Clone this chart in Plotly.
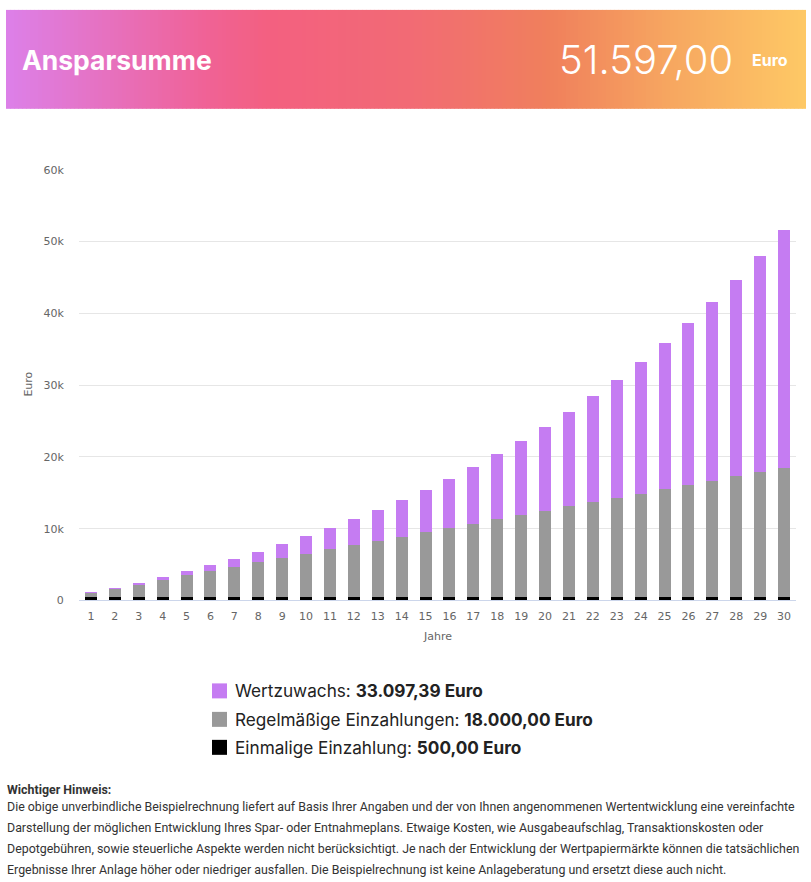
import plotly.graph_objects as go

W, H = 811, 882

# ---------------- data ----------------
jahre = list(range(1, 31))
einmalige_einzahlung = [500] * 30
regelmaessige_einzahlungen = [600, 1200, 1800, 2400, 3000, 3600, 4200, 4800, 5400, 6000,
                              6600, 7200, 7800, 8400, 9000, 9600, 10200, 10800, 11400, 12000,
                              12600, 13200, 13800, 14400, 15000, 15600, 16200, 16800, 17400, 18000]
wertzuwachs = [15, 50, 120, 330, 560, 810, 1060, 1420, 1920, 2440,
               2960, 3610, 4270, 5060, 5850, 6780, 7850, 9060, 10270, 11620,
               13110, 14740, 16370, 18270, 20320, 22500, 24820, 27290, 30030, 33097.39]
y_tickvals = [0, 10000, 20000, 30000, 40000, 50000, 60000]
y_ticktext = ["0", "10k", "20k", "30k", "40k", "50k", "60k"]

legend_items = [
    ("Wertzuwachs:", "33.097,39 Euro", "#c57cf2"),
    ("Regelmäßige Einzahlungen:", "18.000,00 Euro", "#999999"),
    ("Einmalige Einzahlung:", "500,00 Euro", "#000000"),
]
total_text = "51.597,00"

hinweis_title = "Wichtiger Hinweis:"
hinweis_lines = [
    "Die obige unverbindliche Beispielrechnung liefert auf Basis Ihrer Angaben und der von Ihnen angenommenen Wertentwicklung eine vereinfachte",
    "Darstellung der möglichen Entwicklung Ihres Spar- oder Entnahmeplans. Etwaige Kosten, wie Ausgabeaufschlag, Transaktionskosten oder",
    "Depotgebühren, sowie steuerliche Aspekte werden nicht berücksichtigt. Je nach der Entwicklung der Wertpapiermärkte können die tatsächlichen",
    "Ergebnisse Ihrer Anlage höher oder niedriger ausfallen. Die Beispielrechnung ist keine Anlageberatung und ersetzt diese auch nicht.",
]

# ---------------- helpers ----------------
def px(x):
    return x / W

def py(y):
    # target pixel row -> paper coordinate (compensates the observed vertical fit of the page)
    return 1 - ((y - 6.1) / 0.986) / H

AX_FONT = "DejaVu Sans"

fig = go.Figure()
fig.add_trace(go.Bar(x=jahre, y=einmalige_einzahlung, name="Einmalige Einzahlung",
                     marker=dict(color="#000000", line=dict(width=0))))
fig.add_trace(go.Bar(x=jahre, y=regelmaessige_einzahlungen, name="Regelmäßige Einzahlungen",
                     marker=dict(color="#999999", line=dict(width=0))))
fig.add_trace(go.Bar(x=jahre, y=wertzuwachs, name="Wertzuwachs",
                     marker=dict(color="#c57cf2", line=dict(width=0))))

shapes = []
# gradient banner
stops = [(0.0, (220, 128, 233)), (0.25, (240, 98, 150)), (0.33, (243, 96, 128)),
         (0.5, (242, 106, 117)), (0.68, (240, 128, 92)), (0.82, (246, 164, 96)),
         (1.0, (254, 201, 101))]

def interp(t):
    for i in range(len(stops) - 1):
        t0, c0 = stops[i]
        t1, c1 = stops[i + 1]
        if t0 <= t <= t1:
            f = (t - t0) / (t1 - t0)
            return "rgb(%d,%d,%d)" % tuple(round(c0[k] + (c1[k] - c0[k]) * f) for k in range(3))
    return "rgb(%d,%d,%d)" % stops[-1][1]

x0b, x1b, y0b, y1b = 6, 806, 10, 109
N = 200
for i in range(N):
    xa = x0b + (x1b - x0b) * i / N
    xb = x0b + (x1b - x0b) * (i + 1) / N + 0.6
    shapes.append(dict(type="rect", xref="paper", yref="paper",
                       x0=px(xa), x1=px(min(xb, x1b)), y0=py(y1b), y1=py(y0b),
                       fillcolor=interp((i + 0.5) / N), line=dict(width=0), layer="below"))

annotations = [
    dict(text="<b>Ansparsumme</b>", x=px(20), y=py(60), xref="paper", yref="paper",
         xanchor="left", yanchor="middle", showarrow=False,
         font=dict(family="Inter", size=26.5, color="white")),
    dict(text=total_text, x=px(735), y=py(60), xref="paper", yref="paper",
         xanchor="right", yanchor="middle", showarrow=False,
         font=dict(family="Inter", size=40, color="white", weight=300)),
    dict(text="<b>Euro</b>", x=px(750), y=py(60), xref="paper", yref="paper",
         xanchor="left", yanchor="middle", showarrow=False,
         font=dict(family="Inter", size=16, color="white")),
    dict(text="Euro", x=px(29), y=py(385), xref="paper", yref="paper", textangle=-90,
         xanchor="center", yanchor="middle", showarrow=False,
         font=dict(family=AX_FONT, size=11, color="#666666")),
    dict(text="Jahre", x=px(437.5), y=py(637), xref="paper", yref="paper",
         xanchor="center", yanchor="middle", showarrow=False,
         font=dict(family=AX_FONT, size=11, color="#666666")),
]

# custom legend
leg_y = [691.5, 720, 748]
for (lab, val, col), yy in zip(legend_items, leg_y):
    shapes.append(dict(type="rect", xref="paper", yref="paper",
                       x0=px(212), x1=px(227), y0=py(yy + 7.5), y1=py(yy - 7.5),
                       fillcolor=col, line=dict(width=0)))
    annotations.append(dict(text=lab + " <b>" + val + "</b>", x=px(233), y=py(yy),
                            xref="paper", yref="paper", xanchor="left", yanchor="middle",
                            showarrow=False, font=dict(family="Inter", size=17.2, color="#222222")))

# note text
annotations.append(dict(text="<b>" + hinweis_title + "</b>", x=px(5), y=py(790),
                        xref="paper", yref="paper", xanchor="left", yanchor="middle",
                        showarrow=False, font=dict(family="Roboto", size=12.4, color="#333333")))
for i, line in enumerate(hinweis_lines):
    annotations.append(dict(text=line, x=px(5), y=py(807 + 21 * i),
                            xref="paper", yref="paper", xanchor="left", yanchor="middle",
                            showarrow=False, font=dict(family="Roboto", size=12.4, color="#333333")))

fig.update_layout(
    width=W, height=H,
    margin=dict(l=0, r=0, t=0, b=0),
    paper_bgcolor="white", plot_bgcolor="white",
    barmode="stack", bargap=0.5,
    showlegend=False,
    shapes=shapes, annotations=annotations,
    xaxis=dict(domain=[px(79), px(796)], range=[0.5, 30.5],
               tickmode="array", tickvals=jahre, ticktext=[str(j) for j in jahre],
               showgrid=False, zeroline=False,
               showline=True, linecolor="#ccd6eb", linewidth=1,
               ticks="outside", ticklen=5, tickcolor="rgba(0,0,0,0)",
               tickfont=dict(family=AX_FONT, size=11, color="#666666")),
    yaxis=dict(domain=[py(601), py(170)], range=[0, 60000],
               tickmode="array", tickvals=y_tickvals, ticktext=y_ticktext,
               showgrid=True, gridcolor="#e6e6e6", gridwidth=1, zeroline=False,
               ticks="outside", ticklen=12, tickcolor="rgba(0,0,0,0)",
               tickfont=dict(family=AX_FONT, size=11, color="#666666")),
)

fig.write_html("out.html")
